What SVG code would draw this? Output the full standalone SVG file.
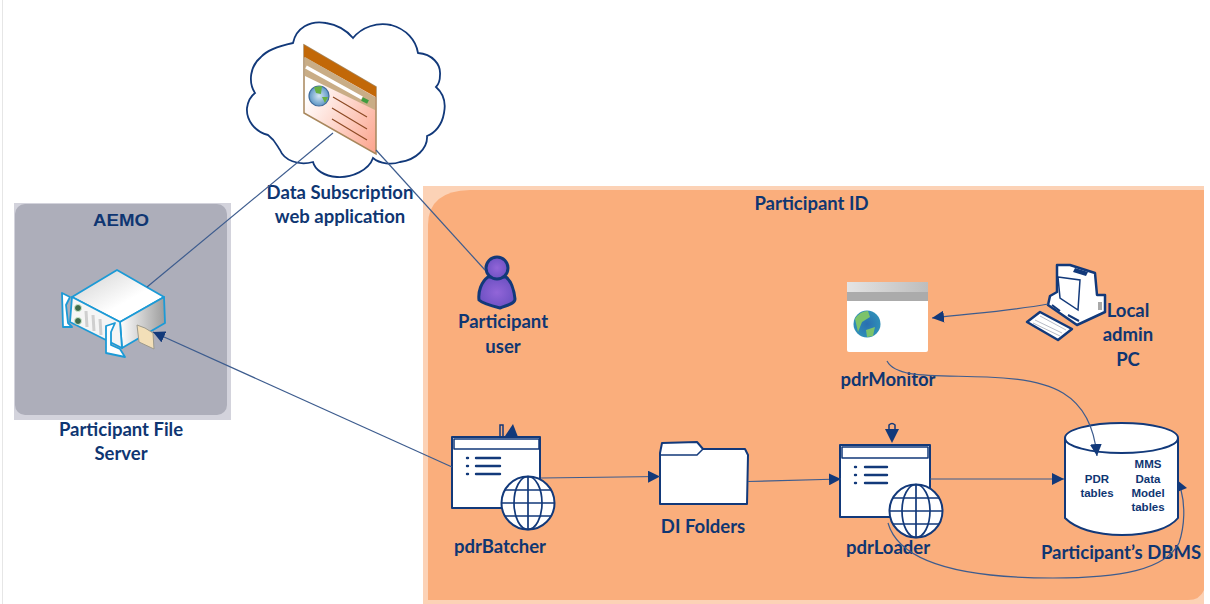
<svg xmlns="http://www.w3.org/2000/svg" width="1210" height="604" viewBox="0 0 1210 604">
<style>
.t{font-family:"Lato","Liberation Sans",sans-serif;font-weight:700;font-size:18.5px;fill:#0f3672;text-anchor:middle}
.s{font-family:"Liberation Sans",Arial,sans-serif;font-weight:700;font-size:11.5px;fill:#0f3672;text-anchor:middle}
.c{fill:none;stroke:#3d5c8e;stroke-width:1.2}
.o{fill:#fff;stroke:#12397a;stroke-width:2;stroke-linejoin:round}
.l{fill:none;stroke:#12397a;stroke-width:2.400;stroke-linecap:round}
.g{fill:#fff;stroke:#12397a;stroke-width:2}
.gl{fill:none;stroke:#12397a;stroke-width:1.700}
.sv{stroke:#1c9ad6;stroke-width:1.800;stroke-linejoin:round}
.h{fill:#12397a}
</style>
<defs>
<marker id="a" viewBox="0 0 10 10" refX="10" refY="5" markerWidth="12" markerHeight="12" markerUnits="userSpaceOnUse" orient="auto"><path d="M0 0L10 5L0 10Z" fill="#12397a"/></marker>
<linearGradient id="top" x1="0" y1="0" x2="1" y2="1"><stop offset="0" stop-color="#cfcfcf"/><stop offset=".6" stop-color="#fff"/></linearGradient>
<linearGradient id="side" x1="0" y1="0" x2="1" y2="0"><stop offset="0" stop-color="#fff"/><stop offset="1" stop-color="#9c9c9c"/></linearGradient>
<linearGradient id="page" x1="0" y1="0" x2="1" y2="1"><stop offset=".25" stop-color="#fff"/><stop offset="1" stop-color="#fca28a"/></linearGradient>
<linearGradient id="bar" x1="0" y1="0" x2="1" y2="0"><stop offset="0" stop-color="#e4e4e4"/><stop offset="1" stop-color="#bdbdbd"/></linearGradient>
<radialGradient id="earth"><stop offset="0" stop-color="#2a6fb0"/><stop offset="1" stop-color="#2f8fb8"/></radialGradient>
<radialGradient id="earth2"><stop offset="0" stop-color="#d4e6f2"/><stop offset="1" stop-color="#5d97c6"/></radialGradient>
<radialGradient id="p"><stop offset="0" stop-color="#9265d8"/><stop offset="1" stop-color="#6f52c4"/></radialGradient>
</defs>
<rect width="1210" height="604" fill="#fff"/>
<line x1="2.500" y1="0" x2="2.500" y2="604" stroke="#e6e6e6"/>
<g id="aemo-zone">
<rect x="14" y="203" width="217" height="217" fill="#d3d3dc"/>
<rect x="15" y="204" width="212" height="211" rx="10" fill="#adaeba"/>
<text x="121" y="226" font-family="Liberation Sans,Arial,sans-serif" font-weight="700" font-size="17" fill="#0f3672" text-anchor="middle" textLength="56" lengthAdjust="spacingAndGlyphs">AEMO</text>
</g>
<g id="participant-zone">
<rect x="423" y="186" width="781" height="418" fill="#fcd2b6"/>
<path d="M428 600V225Q428 191 470 190H1204V590Q1200 600 1188 600Z" fill="#faae7c"/>
<text x="811.500" y="210" class="t">Participant ID</text>
</g>
<g id="cloud">
<path fill="#fff" stroke="#12397a" stroke-width="1.800" d="M293 43C296 28 310 20 326 23C339 25 347 31 353 38C362 27 377 22 391 25C406 29 416 40 418 53C432 54 441 64 440 75C440 81 438 85 436 87C444 94 446 103 444 113C442 125 435 133 427 136C428 148 416 160 400 162C392 165 380 164 373 158C369 170 352 178 337 177C324 176 315 170 313 162C298 166 284 160 280 150C277 146 276 141 268 135C255 132 246 120 247 108C248 101 251 96 255 93C248 82 250 66 261 57C267 50 279 46 293 43Z"/>
<path d="M304 45L376 87V154L304 113Z" fill="url(#page)" stroke="#a8875c" stroke-width="1.500"/>
<path d="M304 45L376 87V97L304 57Z" fill="#c26808"/>
<path d="M305 57L375 97V110L305 76Z" fill="#c9ad86"/>
<path d="M306 67L362 98" stroke="#fff" stroke-width="3.500"/>
<path d="M362 99L368 102" stroke="#3f9c3f" stroke-width="4"/>
<circle cx="319" cy="96" r="10" fill="url(#earth2)" stroke="#3f6c9c" stroke-width="1.200"/>
<path d="M314 87L322 86L321 94L316 93ZM322 97L328 97L325 103Z" fill="#67b043"/>
<path d="M333 97L367 117M332 108L367 129M332 119L367 140" stroke="#8d4a24" stroke-width="1.200"/>
</g>
<text x="340" y="199" class="t">Data Subscription</text>
<text x="340" y="223" class="t">web application</text>
<g id="file-server">
<path class="sv" fill="url(#top)" d="M72 297L117 270L164 297L120 322Z"/>
<path class="sv" fill="url(#side)" d="M120 322L164 297L165 323L122 348Z"/>
<path class="sv" fill="#f5f5f5" d="M72 297L120 322L122 348L70 322Z"/>
<path class="sv" fill="#fff" d="M62 293L70 297L66 305L68 323L72 327L63 327Z"/>
<path class="sv" fill="#fff" d="M106 326L115 323L111 332L111 345L120 349L125 357L106 353Z"/>
<circle cx="78" cy="308" r="3.500" fill="#3f6a4a" stroke="#cde8cd"/>
<circle cx="78" cy="321" r="3.500" fill="#3f6a4a" stroke="#cde8cd"/>
<path d="M86 311L87 327M93 315L94 331M100 319L101 335" stroke="#cfcfcf" stroke-width="3"/>
<path d="M137 325L145 328L153 333L154 349L139 342Z" fill="#f3dfb8" stroke="#9d9a8d"/>
<text x="121" y="436" class="t">Participant File</text>
<text x="121" y="460" class="t">Server</text>
</g>
<g id="participant-user">
<path fill="url(#p)" stroke="#12397a" stroke-width="3" stroke-linejoin="round" d="M488 277C481 282 478 292 479 300C482 303 492 306 500 308C507 305 515 304 515 299C514 290 511 281 506 277Z"/>
<circle cx="497" cy="268" r="11" fill="url(#p)" stroke="#12397a" stroke-width="3"/>
<text x="503" y="328" class="t">Participant</text>
<text x="503" y="353" class="t">user</text>
</g>
<g id="pdr-monitor">
<rect x="847" y="282" width="81" height="70" rx="2" fill="#fff"/>
<rect x="847" y="282" width="81" height="10" fill="url(#bar)"/>
<rect x="847" y="292" width="81" height="9" fill="#ababab"/>
<circle cx="867" cy="324" r="13.500" fill="url(#earth)"/>
<path d="M855 319Q860 311 868 311L870 317L862 322L858 332ZM866 330L875 327L873 336L867 337Z" fill="#7cc36a"/>
<text x="888" y="386" class="t">pdrMonitor</text>
</g>
<g id="local-admin-pc">
<path fill="#fff" stroke="#12397a" stroke-width="2.500" stroke-linejoin="round" d="M1057 265L1070 265L1095 273L1097 295L1105 295L1105 312L1077 325L1048 305L1050 296L1057 292Z"/>
<path fill="#fff" stroke="#12397a" stroke-width="1.500" d="M1058 277L1080 280L1078 310L1060 298Z"/>
<path d="M1075 268L1088 272L1086 276L1073 272Z" fill="#12397a"/>
<path fill="none" stroke="#12397a" stroke-width="2" d="M1052 305L1060 311M1068 315L1079 321"/>
<rect x="1098" y="302" width="4" height="8" fill="#a9a9a9"/>
<path fill="#fff" stroke="#12397a" stroke-width="2.500" stroke-linejoin="round" d="M1027 322L1040 312L1072 329L1058 340Z"/>
<path stroke="#b8bcc6" stroke-width="1" d="M1035 320L1062 333M1040 316L1066 330M1033 323L1060 336"/>
<text x="1128" y="317" class="t">Local</text>
<text x="1128" y="341" class="t">admin</text>
<text x="1128" y="366" class="t">PC</text>
</g>
<g id="pdr-batcher">
<rect class="o" x="452" y="437" width="88" height="71"/>
<rect class="o" x="454" y="439" width="85" height="10" style="stroke-width:1.500"/>
<path class="l" d="M467 458H468M476 458H500M467 466H468M476 466H500M467 474H468M476 474H500"/>
<path fill="none" stroke="#12397a" stroke-width="1.500" d="M500 436V425H503V436"/>
<path class="h" d="M505 436L513 424L518 437Z"/>
<circle class="g" cx="528" cy="503" r="26.500"/>
<path class="gl" d="M528 477V530M502 503H554M505 490H551M505 516H551"/>
<ellipse class="gl" cx="528" cy="503" rx="14" ry="26.500"/>
<text x="500" y="553" class="t">pdrBatcher</text>
</g>
<g id="di-folders">
<path class="o" d="M660 504V453L662 443L697 442L703 449H745L748 455L747 504Z"/>
<path class="o" style="stroke-width:1.500;fill:none" d="M661 455H697L703 449"/>
<text x="703" y="533" class="t">DI Folders</text>
</g>
<g id="pdr-loader">
<rect class="o" x="840" y="445" width="90" height="72"/>
<rect class="o" x="842" y="447" width="86" height="11" style="stroke-width:1.500"/>
<path class="l" d="M855 467H856M865 467H887M855 475H856M865 475H887M855 483H856M865 483H887"/>
<path fill="none" stroke="#12397a" stroke-width="1.500" d="M889 431V425Q892 422 895 425V431"/>
<path class="h" d="M885 429H899L892 443Z"/>
<circle class="g" cx="916" cy="511" r="26.500"/>
<path class="gl" d="M916 484V537M890 511H942M893 498H939M893 524H939"/>
<ellipse class="gl" cx="916" cy="511" rx="14" ry="26.500"/>
<text x="888" y="554" class="t">pdrLoader</text>
</g>
<g id="dbms">
<path class="o" d="M1065 438V518C1075 528 1095 535 1122 535C1150 535 1170 528 1178 518V438"/>
<ellipse class="o" cx="1121.500" cy="438" rx="56.500" ry="15"/>
<text x="1097" y="483" class="s">PDR</text>
<text x="1097" y="497" class="s">tables</text>
<text x="1148" y="468" class="s">MMS</text>
<text x="1148" y="483" class="s">Data</text>
<text x="1148" y="497" class="s">Model</text>
<text x="1148" y="511" class="s">tables</text>
<text x="1121" y="559" class="t">Participant’s DBMS</text>
</g>
<g id="connectors">
<path class="c" d="M147 287L333 133"/>
<path class="c" d="M376 150L485 270"/>
<path class="c" marker-end="url(#a)" d="M452 467L153 332"/>
<path class="c" marker-end="url(#a)" d="M541 478L660 476.500"/>
<path class="c" marker-end="url(#a)" d="M748 481.500L841 479"/>
<path class="c" marker-end="url(#a)" d="M930 479L1064 479"/>
<path class="c" marker-end="url(#a)" d="M1048 304C1010 311 975 313 932 318"/>
<path class="c" marker-end="url(#a)" d="M887 361C896 378 930 375 987 377C1050 379 1091 392 1097 456"/>
<path class="c" d="M888 523C900 565 970 578 1053 578C1120 578 1165 570 1179 543C1185 525 1185 505 1181 490"/>
<path class="h" d="M1177 480L1187 488L1177 492Z"/>
</g>
</svg>
